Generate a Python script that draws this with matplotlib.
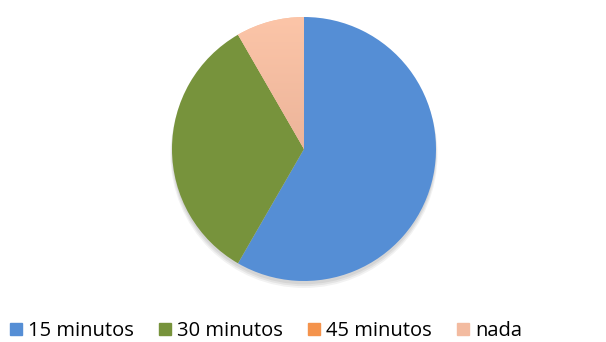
import matplotlib.pyplot as plt
import matplotlib.patches as mpatches
import numpy as np
from matplotlib.colors import LinearSegmentedColormap

labels = ["15 minutos", "30 minutos", "45 minutos", "nada"]
values = [14, 8, 0, 2]
colors = ["#558ED5", "#77933C", "#F79646", "#F8BFA0"]

plt.rcParams['font.family'] = ['Open Sans', 'DejaVu Sans']

fig = plt.figure(figsize=(6.06, 3.42), dpi=100)
ax = fig.add_axes([172 / 606, 1 - 281 / 342, 264 / 606, 264 / 342])

# soft shadow under the pie
for i, a in enumerate([0.06, 0.06, 0.05]):
    sh = mpatches.Circle((0.0, -0.025 - i * 0.008), 1.0 + i * 0.006,
                         color="black", alpha=a, zorder=0, lw=0, clip_on=False)
    ax.add_patch(sh)

wedges, _ = ax.pie(values, colors=colors, startangle=90, counterclock=False,
                   wedgeprops=dict(linewidth=0))
for w in wedges:
    w.set_zorder(2)

# vertical gradient in the "nada" slice
cmap = LinearSegmentedColormap.from_list("nada", ["#DCA48C", "#FCC5A8"])
grad = np.linspace(0, 1, 256).reshape(-1, 1)
im = ax.imshow(grad, cmap=cmap, extent=(-1, 1, -1, 1), origin="lower",
               aspect="auto", zorder=3)
im.set_clip_path(wedges[3])

ax.set_xlim(-1, 1)
ax.set_ylim(-1, 1)
ax.set_aspect("equal")
ax.axis("off")

handles = [mpatches.Patch(color=c) for c in ["#558ED5", "#77933C", "#F4934C", "#F3BBA0"]]
fig.legend(handles, labels, loc="center", bbox_to_anchor=(266 / 606, 1 - 331 / 342),
           ncol=4, frameon=False, fontsize=14.5, handlelength=0.6, handleheight=0.6,
           handletextpad=0.3, columnspacing=1.25, borderaxespad=0)

fig.savefig("out.png", dpi=100)
